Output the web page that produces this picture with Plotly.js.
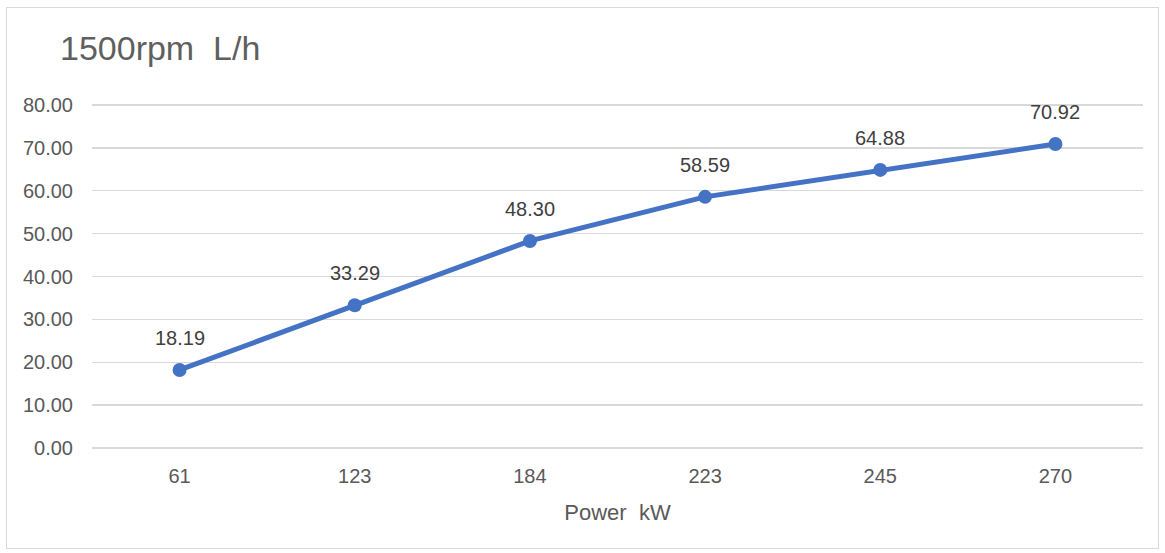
<!DOCTYPE html>
<html><head><meta charset="utf-8">
<script src="https://cdn.plot.ly/plotly-3.0.1.min.js"></script>
<style>
html,body{margin:0;padding:0;background:#fff;}
#wrap{position:relative;width:1165px;height:553px;}
#chart{width:1165px;height:553px;}
#frame{position:absolute;left:6px;top:7px;width:1153px;height:542px;border:1px solid #d9d9d9;pointer-events:none;box-sizing:border-box;}
</style></head>
<body>
<div id="wrap"><div id="chart"></div><div id="frame"></div></div>
<script>
const categories = ["61","123","184","223","245","270"];
const values = [18.19, 33.29, 48.30, 58.59, 64.88, 70.92];
const yTicks = [0,10,20,30,40,50,60,70,80];
const yTickLabels = ["0.00","10.00","20.00","30.00","40.00","50.00","60.00","70.00","80.00"];
const FONT = '"Liberation Sans", Arial, sans-serif';

const trace = {
  x: categories, y: values, type: 'scatter', mode: 'lines+markers',
  line: {color: '#4472C4', width: 5},
  marker: {color: '#4472C4', size: 14},
  hoverinfo: 'none', cliponaxis: false
};
const annotations = categories.map((c, i) => ({
  x: i, y: values[i], xref: 'x', yref: 'y', text: values[i].toFixed(2),
  showarrow: false, yshift: 32, font: {family: FONT, size: 20, color: '#404040'}
}));
const layout = {
  width: 1165, height: 553,
  margin: {l: 92, r: 22, t: 103, b: 103},
  paper_bgcolor: '#fff', plot_bgcolor: '#fff',
  showlegend: false,
  title: {text: '1500rpm  L/h', x: 60/1165, xanchor: 'left', y: 1-48/553, yanchor: 'middle',
          font: {family: FONT, size: 34, color: '#5f5f5f'}},
  xaxis: {type: 'category', range: [-0.5, 5.5], showgrid: false, zeroline: false, showline: false, ticks: '',
          tickfont: {family: FONT, size: 20, color: '#595959'}, ticklabelstandoff: 12,
          title: {text: 'Power  kW', font: {family: FONT, size: 22, color: '#595959'}, standoff: 18}},
  yaxis: {range: [-0.5, 80.5], tickvals: yTicks, ticktext: yTickLabels, showgrid: true,
          gridcolor: '#d9d9d9', gridwidth: 1.3, zeroline: false, showline: false, ticks: '',
          tickfont: {family: FONT, size: 20, color: '#595959'}, ticklabelstandoff: 18},
  annotations: annotations
};
Plotly.newPlot('chart', [trace], layout, {displayModeBar: false, staticPlot: true});
</script>
</body></html>
